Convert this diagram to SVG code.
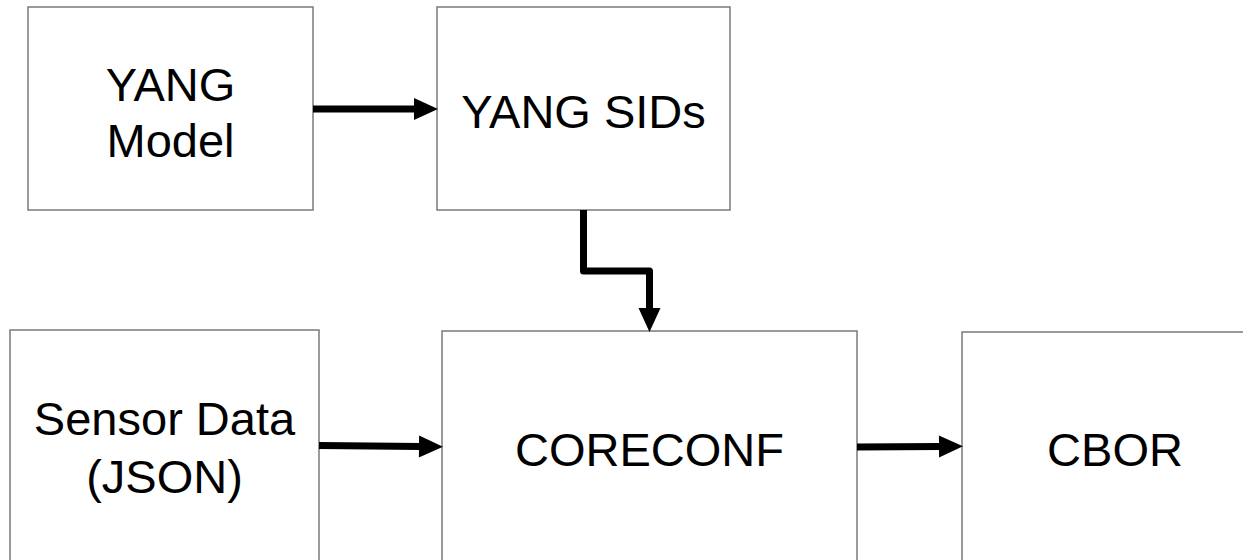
<svg xmlns="http://www.w3.org/2000/svg" width="1243" height="560" viewBox="0 0 1243 560">
  <style>
    .box { fill: #ffffff; stroke: #7a7a7a; stroke-width: 1.5; }
    .lbl { font-family: "Liberation Sans", Arial, sans-serif; font-size: 47px; fill: #000000; text-anchor: middle; }
    .wire { fill: none; stroke: #000000; stroke-width: 7; stroke-linejoin: round; }
  </style>
  <defs>
    <!-- arrowhead: its base sits on the path end, tip 23px further on -->
    <marker id="head" markerUnits="userSpaceOnUse" markerWidth="25" markerHeight="22" refX="1" refY="11" orient="auto" overflow="visible">
      <path d="M0,0 L24,11 L0,22 Z" fill="#000000"/>
    </marker>
  </defs>
  <rect width="1243" height="560" fill="#ffffff"/>

  <g id="yang-model">
    <rect class="box" x="28" y="7" width="285" height="203"/>
    <text class="lbl" x="170.5" y="101">YANG</text>
    <text class="lbl" x="170.5" y="157">Model</text>
  </g>

  <g id="yang-sids">
    <rect class="box" x="437" y="7" width="293" height="203"/>
    <text class="lbl" x="583.5" y="128">YANG SIDs</text>
  </g>

  <g id="sensor-data">
    <rect class="box" x="10" y="330" width="309" height="250"/>
    <text class="lbl" x="164.5" y="435">Sensor Data</text>
    <text class="lbl" x="164.5" y="493">(JSON)</text>
  </g>

  <g id="coreconf">
    <rect class="box" x="442" y="331" width="415" height="250"/>
    <text class="lbl" x="649.5" y="466">CORECONF</text>
  </g>

  <g id="cbor">
    <rect class="box" x="962" y="332" width="310" height="250"/>
    <text class="lbl" x="1115" y="466">CBOR</text>
  </g>

  <g id="connectors">
    <path class="wire" d="M313,109 L415,109" marker-end="url(#head)"/>
    <path class="wire" d="M583.5,210 L583.5,271 L649.5,271 L649.5,309" marker-end="url(#head)"/>
    <path class="wire" d="M319,445.5 L420,446.5" marker-end="url(#head)"/>
    <path class="wire" d="M857,447 L940,446.5" marker-end="url(#head)"/>
  </g>
</svg>
